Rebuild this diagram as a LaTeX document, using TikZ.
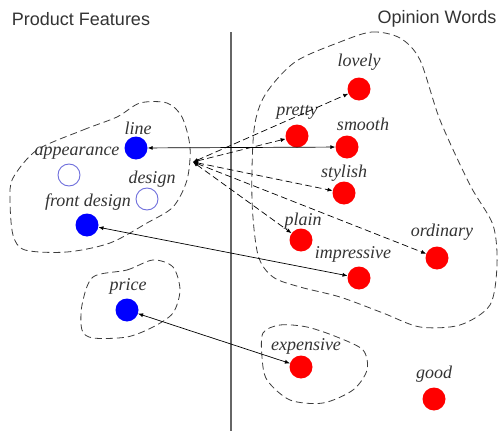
\documentclass[tikz,border=0pt]{standalone}
\usepackage{fontspec}
\setmainfont{Liberation Serif}
\setsansfont{Liberation Sans}
\usetikzlibrary{arrows.meta,positioning}
\definecolor{featblue}{RGB}{0,0,255}
\definecolor{opred}{RGB}{255,0,0}
\definecolor{ringblue}{RGB}{110,110,220}
\definecolor{blobgray}{RGB}{60,60,60}

\begin{document}
\begin{tikzpicture}[x=1pt,y=-1pt,
      every node/.style={font=\fontsize{18}{20}\selectfont\itshape,text=black!80},
      feat/.style={circle,fill=featblue,minimum size=23pt,inner sep=0pt},
      ring/.style={circle,draw=ringblue,line width=0.9pt,minimum size=22pt,inner sep=0pt},
      opin/.style={circle,fill=opred,minimum size=23pt,inner sep=0pt},
      head/.style={font=\fontsize{18}{20}\selectfont\sffamily},
      blob/.style={draw=blobgray,dash pattern=on 7pt off 4pt,line width=0.8pt},
      link/.style={{Latex[length=5pt,width=4pt]}-{Latex[length=5pt,width=4pt]},line width=0.7pt},
      dlink/.style={link,dash pattern=on 6.5pt off 3.5pt}]
    \useasboundingbox (0,0) rectangle (499,431);
    % Headings and separator
    \node[head] (pf) at (81,19)  {Product Features};
    \node[head] (ow) at (437,19) {Opinion Words};
    \draw[black!60,line width=1.2pt] (231,32) -- (231,431);
    % Clusters
    \draw[blob] plot[smooth cycle] coordinates {(37,150) (83,130) (117,117) (140,103) (167,103)
      (182,117) (190,147) (187,180) (173,207) (147,223) (110,243) (67,252) (25,250)
      (13,235) (10,200) (13,178)};
    \draw[blob] plot[smooth cycle] coordinates {(93,277) (127,270) (153,260) (173,267) (180,290)
      (173,313) (153,327) (127,337) (93,338) (82,330) (82,305)};
    \draw[blob] plot[smooth cycle] coordinates {(263,333) (280,325) (307,327) (337,337) (363,350)
      (367,370) (353,390) (323,403) (290,400) (267,380) (262,357)};
    \draw[blob] plot[smooth cycle] coordinates {(340,42) (372,32) (400,38) (420,60) (440,120)
      (470,185) (493,225) (497,265) (490,305) (460,325) (420,327) (383,313) (340,297)
      (300,287) (273,277) (258,255) (252,200) (254,130) (265,95) (295,62)};
    % Product features
    \node[feat] (line)   at (136,148) {};
    \node[ring] (appear) at (69,175)  {};
    \node[ring] (design) at (147,199) {};
    \node[feat] (front)  at (87,225)  {};
    \node[feat] (price)  at (127,310) {};
    \node (line-t)   at (138,128) {line};
    \node (appear-t) at (77,153)  {appearance};
    \node (design-t) at (152,179) {design};
    \node (front-t)  at (88,202)  {front design};
    \node (price-t)  at (128,286) {price};
    % Opinion words
    \node[opin] (lovely)  at (359,89)  {};
    \node[opin] (pretty)  at (297,136) {};
    \node[opin] (smooth)  at (347,147) {};
    \node[opin] (stylish) at (344,193) {};
    \node[opin] (plain)   at (301,240) {};
    \node[opin] (impress) at (359,278) {};
    \node[opin] (ordin)   at (437,258) {};
    \node[opin] (expens)  at (301,367) {};
    \node[opin] (good)    at (434,399) {};
    \node (lovely-t)  at (359,62)  {lovely};
    \node (pretty-t)  at (297,112) {pretty};
    \node (smooth-t)  at (363,124) {smooth};
    \node (stylish-t) at (344,173) {stylish};
    \node (plain-t)   at (303,221) {plain};
    \node (impress-t) at (353,254) {impressive};
    \node (ordin-t)   at (442,232) {ordinary};
    \node (expens-t)  at (306,346) {expensive};
    \node (good-t)    at (434,374) {good};
    % Links
    \coordinate (hub) at (193,162);
    \draw[link] (line) -- (smooth);
    \draw[link] (front) -- (impress);
    \draw[link] (price) -- (expens);
    \foreach \w in {lovely,pretty,stylish,plain,ordin}
      \draw[dlink] (hub) -- (\w);
  \end{tikzpicture}
\end{document}
